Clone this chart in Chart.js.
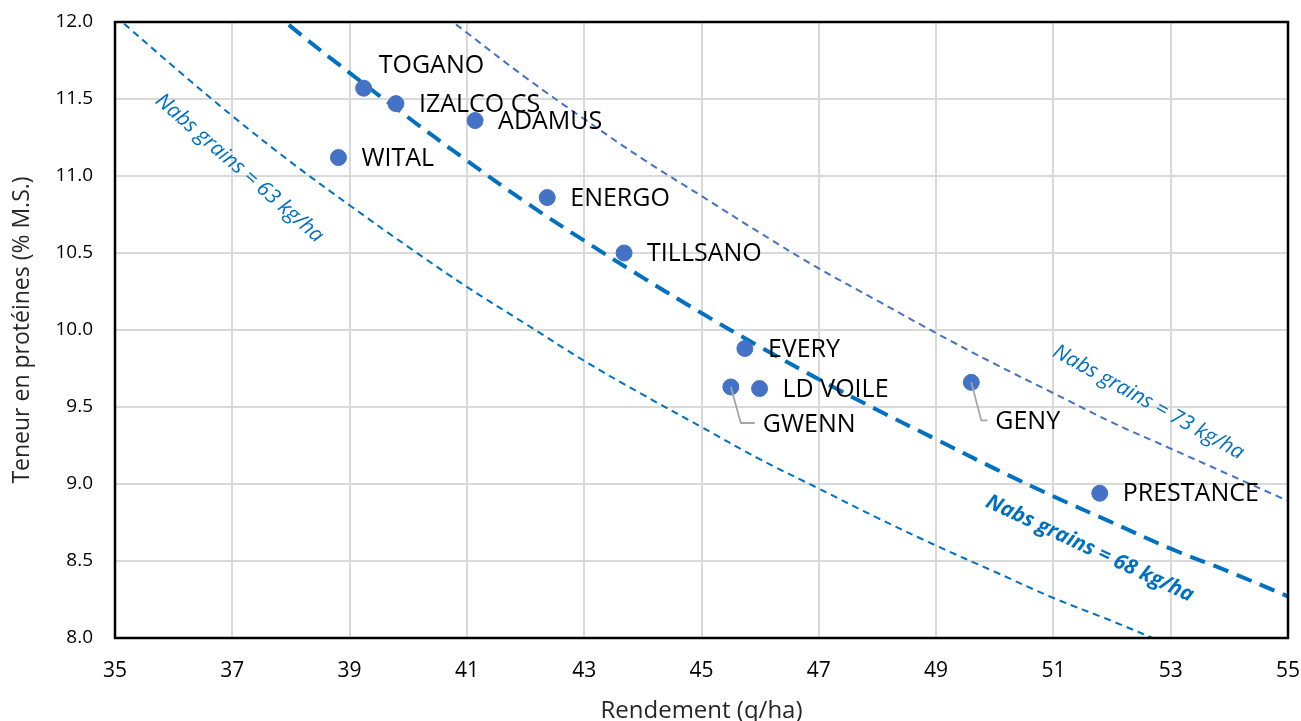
<!DOCTYPE html>
<html>
<head>
<meta charset="utf-8">
<script src="https://cdn.jsdelivr.net/npm/chart.js@4.4.0/dist/chart.umd.min.js"></script>
<style>
  html, body { margin: 0; padding: 0; background: #fff; overflow: hidden; }
  #wrap { width: 1301px; height: 721px; overflow: hidden; }
</style>
</head>
<body>
<div id="wrap"><canvas id="chart" width="1301" height="730"></canvas></div>
<script>
// varieties
var varieties = ['TOGANO', 'IZALCO CS', 'ADAMUS', 'WITAL', 'ENERGO', 'TILLSANO', 'EVERY', 'GWENN', 'LD VOILE', 'GENY', 'PRESTANCE'];
var varietyYield = [39.24, 39.79, 41.14, 38.81, 42.37, 43.68, 45.74, 45.50, 45.99, 49.60, 51.79];
var varietyProtein = [11.57, 11.47, 11.36, 11.12, 10.86, 10.50, 9.88, 9.63, 9.62, 9.66, 8.94];

// iso-N lines
var n63Yield = [35, 36, 37, 38, 39, 40, 41, 42, 43, 44, 45, 46, 47, 48, 49, 50, 51, 52, 53];
var n63Protein = [12.04, 11.71, 11.39, 11.09, 10.81, 10.54, 10.28, 10.04, 9.80, 9.58, 9.37, 9.16, 8.97, 8.78, 8.60, 8.43, 8.26, 8.11, 7.95];
var n68Yield = [37, 38, 39, 40, 41, 42, 43, 44, 45, 46, 47, 48, 49, 50, 51, 52, 53, 54, 55];
var n68Protein = [12.30, 11.97, 11.67, 11.38, 11.10, 10.83, 10.58, 10.34, 10.11, 9.89, 9.68, 9.48, 9.29, 9.10, 8.92, 8.75, 8.58, 8.43, 8.27];
var n73Yield = [40, 41, 42, 43, 44, 45, 46, 47, 48, 49, 50, 51, 52, 53, 54, 55];
var n73Protein = [12.22, 11.93, 11.64, 11.37, 11.11, 10.87, 10.63, 10.40, 10.19, 9.98, 9.78, 9.59, 9.40, 9.23, 9.06, 8.89];

var lineLabels = ['Nabs grains = 63 kg/ha', 'Nabs grains = 68 kg/ha', 'Nabs grains = 73 kg/ha'];

function toPoints(xs, ys) {
  return xs.map(function (x, i) { return {x: x, y: ys[i]}; });
}

// label placement: [dx, dy, leader]
var labelPos = {
  'TOGANO': [15, -22, false],
  'GWENN': [32, 38, true],
  'GENY': [24, 40, true]
};

// where the curve captions sit (data coords) and their angle
var captions = [
  {text: lineLabels[0], x: 37.12, y: 11.05, angle: 41, bold: false},
  {text: lineLabels[1], x: 51.62, y: 8.58, angle: 25, bold: true},
  {text: lineLabels[2], x: 52.62, y: 9.53, angle: 29, bold: false}
];

var overlay = {
  id: 'overlay',
  afterDatasetsDraw: function (chart) {
    var ctx = chart.ctx;
    var xs = chart.scales.x, ys = chart.scales.y;
    ctx.save();
    // curve captions
    captions.forEach(function (c) {
      ctx.save();
      ctx.translate(xs.getPixelForValue(c.x), ys.getPixelForValue(c.y));
      ctx.rotate(c.angle * Math.PI / 180);
      ctx.font = 'italic ' + (c.bold ? 'bold ' : '') + '21px "Open Sans"';
      ctx.textAlign = 'center';
      ctx.textBaseline = 'middle';
      ctx.fillStyle = '#0070C0';
      ctx.fillText(c.text, 0, 0);
      ctx.restore();
    });
    // point labels
    ctx.font = '25px "Open Sans"';
    ctx.textBaseline = 'middle';
    ctx.textAlign = 'left';
    varieties.forEach(function (name, i) {
      var px = xs.getPixelForValue(varietyYield[i]);
      var py = ys.getPixelForValue(varietyProtein[i]);
      var p = labelPos[name] || [23, 1, false];
      if (p[2]) {
        ctx.strokeStyle = '#a6a6a6';
        ctx.lineWidth = 1.8;
        ctx.beginPath();
        ctx.moveTo(px, py);
        ctx.lineTo(px + 10, py + p[1] - 2);
        ctx.lineTo(px + p[0] - 8, py + p[1] - 2);
        ctx.stroke();
      }
      ctx.fillStyle = '#000';
      ctx.fillText(name, px + p[0], py + p[1]);
    });
    ctx.restore();
  },
  afterDraw: function (chart) {
    var a = chart.chartArea, ctx = chart.ctx;
    ctx.save();
    ctx.strokeStyle = '#000';
    ctx.lineWidth = 2.5;
    ctx.strokeRect(a.left, a.top, a.right - a.left, a.bottom - a.top);
    ctx.restore();
  }
};

new Chart(document.getElementById('chart').getContext('2d'), {
  type: 'scatter',
  data: {
    datasets: [
      {
        label: 'Variétés',
        data: toPoints(varietyYield, varietyProtein),
        backgroundColor: '#4472C4',
        borderColor: '#4472C4',
        pointRadius: 8,
        pointHoverRadius: 8,
        order: 0
      },
      {
        label: lineLabels[0],
        type: 'line',
        data: toPoints(n63Yield, n63Protein),
        borderColor: '#0070C0',
        borderWidth: 2,
        borderDash: [7, 5],
        pointRadius: 0,
        tension: 0.4,
        fill: false,
        order: 1
      },
      {
        label: lineLabels[1],
        type: 'line',
        data: toPoints(n68Yield, n68Protein),
        borderColor: '#0070C0',
        borderWidth: 4,
        borderDash: [16, 9],
        pointRadius: 0,
        tension: 0.4,
        fill: false,
        order: 1
      },
      {
        label: lineLabels[2],
        type: 'line',
        data: toPoints(n73Yield, n73Protein),
        borderColor: '#4472C4',
        borderWidth: 2,
        borderDash: [7, 5],
        pointRadius: 0,
        tension: 0.4,
        fill: false,
        order: 1
      }
    ]
  },
  options: {
    responsive: false,
    animation: false,
    layout: {padding: {left: 0, top: 22, right: 13, bottom: 0}},
    plugins: {
      legend: {display: false},
      tooltip: {enabled: false}
    },
    scales: {
      x: {
        type: 'linear',
        min: 35,
        max: 55,
        afterFit: function (s) { s.height = 92; s.paddingLeft = 0; s.paddingRight = 0; },
        ticks: {stepSize: 2, padding: 20, color: '#000', font: {family: '"Open Sans"', size: 21}},
        grid: {color: '#d9d9d9', lineWidth: 2, drawTicks: false},
        border: {display: false},
        title: {display: true, text: 'Rendement (q/ha)', color: '#262626', font: {family: '"Open Sans"', size: 24}, padding: {top: 4, bottom: 4}}
      },
      y: {
        min: 8,
        max: 12,
        afterFit: function (s) { s.width = 115; s.paddingTop = 0; s.paddingBottom = 0; },
        ticks: {stepSize: 0.5, padding: 22, color: '#000', font: {family: '"Open Sans"', size: 19},
          callback: function (v) { return v.toFixed(1); }},
        grid: {color: '#d9d9d9', lineWidth: 2, drawTicks: false},
        border: {display: false},
        title: {display: true, text: 'Teneur en protéines (% M.S.)', color: '#262626', font: {family: '"Open Sans"', size: 23}, padding: {top: 9, bottom: 4}}
      }
    }
  },
  plugins: [overlay]
});
</script>
</body>
</html>
